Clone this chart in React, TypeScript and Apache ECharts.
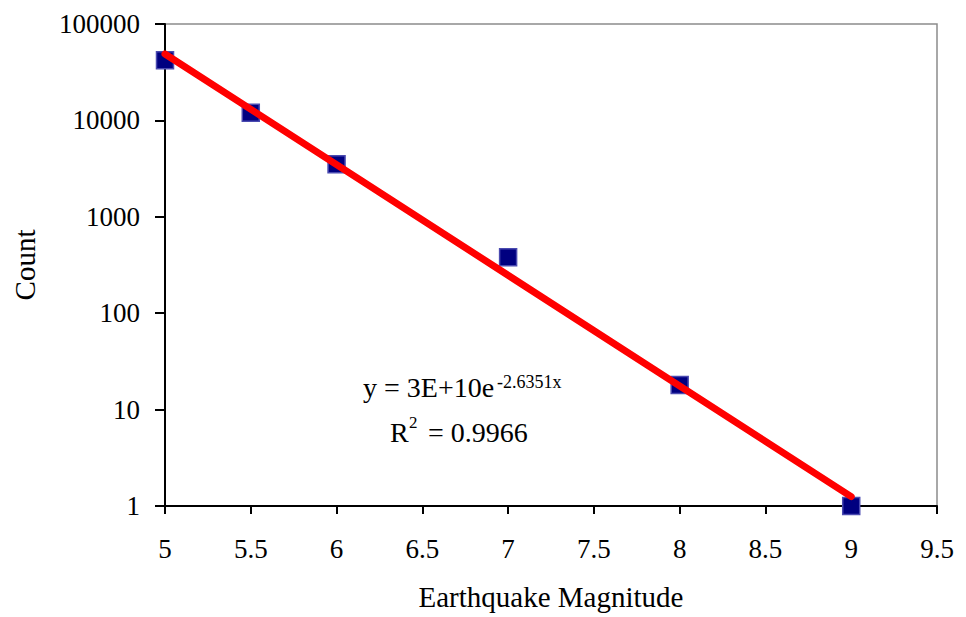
import React, { useEffect, useRef } from "react";
import * as echarts from "echarts";

const magnitudes = [5, 5.5, 6, 7, 8, 9];
const counts = [42000, 12000, 3500, 380, 18, 1];
const xTicks = { min: 5, max: 9.5, interval: 0.5 };
const yRange = { min: 1, max: 100000 };
const equationMain = "y = 3E+10e";
const equationSup = "-2.6351x";
const r2Main = "R";
const r2Sup = "2";
const r2Rest = "= 0.9966";

function expFit(xs: number[], ys: number[]) {
  const n = xs.length;
  const ls = ys.map((v) => Math.log(v));
  const mx = xs.reduce((a, b) => a + b, 0) / n;
  const my = ls.reduce((a, b) => a + b, 0) / n;
  let sxx = 0;
  let sxy = 0;
  for (let i = 0; i < n; i++) {
    sxx += (xs[i] - mx) * (xs[i] - mx);
    sxy += (xs[i] - mx) * (ls[i] - my);
  }
  const b = sxy / sxx;
  const a = my - b * mx;
  return (x: number) => Math.exp(a + b * x);
}

const FONT = "Liberation Serif";

export default function App() {
  const ref = useRef<HTMLDivElement>(null);
  useEffect(() => {
    if (!ref.current) return;
    const chart = echarts.init(ref.current, null, { renderer: "svg" });
    const fit = expFit(magnitudes, counts);
    const x0 = magnitudes[0];
    const x1 = magnitudes[magnitudes.length - 1];
    const trend = [
      [x0, fit(x0)],
      [x1, fit(x1)],
    ];
    const txt = (text: string, left: number, top: number, size: number) => ({
      type: "text",
      left,
      top,
      z: 10,
      style: { text, fontFamily: FONT, fontSize: size, fill: "#000" },
    });
    chart.setOption({
      animation: false,
      backgroundColor: "#ffffff",
      grid: {
        left: 165,
        right: 29,
        top: 24,
        bottom: 111,
        show: true,
        borderColor: "#8c8c8c",
        borderWidth: 1.5,
        backgroundColor: "transparent",
      },
      xAxis: {
        type: "value",
        min: xTicks.min,
        max: xTicks.max,
        interval: xTicks.interval,
        name: "Earthquake Magnitude",
        nameLocation: "middle",
        nameGap: 76,
        nameTextStyle: { fontFamily: FONT, fontSize: 29, color: "#000" },
        axisLine: { show: true, onZero: false, lineStyle: { color: "#000", width: 2 } },
        axisTick: { show: true, length: 8, lineStyle: { color: "#000", width: 2 } },
        axisLabel: { margin: 29, fontFamily: FONT, fontSize: 27, color: "#000" },
        splitLine: { show: false },
      },
      yAxis: {
        type: "log",
        logBase: 10,
        min: yRange.min,
        max: yRange.max,
        name: "Count",
        nameLocation: "middle",
        nameGap: 126,
        nameTextStyle: { fontFamily: FONT, fontSize: 29, color: "#000" },
        axisLine: { show: true, lineStyle: { color: "#000", width: 2 } },
        axisTick: { show: true, length: 10, lineStyle: { color: "#000", width: 2 } },
        axisLabel: {
          margin: 25,
          fontFamily: FONT,
          fontSize: 27,
          color: "#000",
          formatter: (v: number) => String(Math.round(v)),
        },
        splitLine: { show: false },
        minorTick: { show: false },
      },
      series: [
        {
          type: "scatter",
          data: magnitudes.map((m, i) => [m, counts[i]]),
          symbol: "rect",
          symbolSize: 17,
          itemStyle: { color: "#000080", borderColor: "#4a4ab0", borderWidth: 1.5, opacity: 1 },
          z: 2,
        },
        {
          type: "line",
          data: trend,
          symbol: "none",
          lineStyle: { color: "#ff0000", width: 7, cap: "round" },
          z: 3,
        },
      ],
      graphic: [
        txt(equationMain, 363, 373, 28),
        txt(equationSup, 497, 373, 18),
        txt(r2Main, 390, 418, 28),
        txt(r2Sup, 409, 414, 17),
        txt(r2Rest, 428, 418, 28),
      ],
    });
    return () => chart.dispose();
  }, []);
  return (
    <div
      ref={ref}
      style={{ position: "absolute", left: 0, top: 0, width: 966, height: 617, background: "#fff" }}
    />
  );
}
